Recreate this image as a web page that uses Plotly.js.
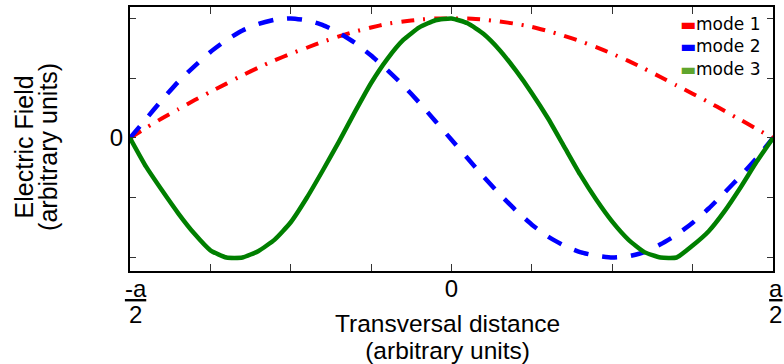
<!DOCTYPE html>
<html>
<head>
<meta charset="utf-8">
<script src="https://cdn.plot.ly/plotly-3.0.1.min.js"></script>
<style>
  html, body { margin: 0; padding: 0; background: #fff; }
  #plot { width: 784px; height: 364px; }
</style>
</head>
<body>
<div id="plot"></div>
<script>
// Transverse position across the guide, in units of the width a
const xPos = [-0.5, -0.475, -0.45, -0.425, -0.4, -0.375, -0.35, -0.325, -0.3, -0.275,
  -0.25, -0.225, -0.2, -0.175, -0.15, -0.125, -0.1, -0.075, -0.05, -0.025,
  0, 0.025, 0.05, 0.075, 0.1, 0.125, 0.15, 0.175, 0.2, 0.225,
  0.25, 0.275, 0.3, 0.325, 0.35, 0.375, 0.4, 0.425, 0.45, 0.475, 0.5];

// Field profiles (arbitrary units)
const mode1 = [0, 0.085, 0.165, 0.24, 0.315, 0.385, 0.455, 0.525, 0.59, 0.65,
  0.705, 0.755, 0.805, 0.85, 0.89, 0.925, 0.955, 0.975, 0.99, 1.0,
  1.0, 1.0, 0.99, 0.975, 0.955, 0.93, 0.895, 0.855, 0.81, 0.76,
  0.705, 0.645, 0.58, 0.51, 0.44, 0.37, 0.3, 0.225, 0.15, 0.075, 0];

const mode2 = [0, 0.16, 0.32, 0.47, 0.6, 0.72, 0.82, 0.9, 0.955, 0.99,
  1.0, 0.985, 0.945, 0.88, 0.795, 0.69, 0.57, 0.44, 0.295, 0.14,
  -0.015, -0.17, -0.325, -0.47, -0.605, -0.725, -0.825, -0.9, -0.955, -0.985,
  -1.0, -0.99, -0.955, -0.89, -0.81, -0.71, -0.59, -0.455, -0.315, -0.165, 0];

const mode3 = [0, -0.24, -0.44, -0.63, -0.8, -0.94, -1.0, -1.0, -0.945, -0.85,
  -0.705, -0.5, -0.27, -0.03, 0.22, 0.46, 0.66, 0.82, 0.925, 0.985,
  1.0, 0.96, 0.87, 0.735, 0.565, 0.375, 0.165, -0.07, -0.305, -0.515,
  -0.7, -0.85, -0.955, -1.0, -1.0, -0.9, -0.78, -0.61, -0.41, -0.195, 0];

const seriesNames = ['mode 1', 'mode 2', 'mode 3'];
const lineColors = ['#ff0000', '#0000ff', '#007f00'];
const legendColors = ['#ff0000', '#0000ff', '#5fa52d'];

// Axis ticks and labels
const xTickVals = [-0.5, -0.375, -0.25, -0.125, 0, 0.125, 0.25, 0.375, 0.5];
const xTickText = [
  '&nbsp;&nbsp;<span style="font-size:24px"><u>-a</u></span><br>&nbsp;&nbsp;<span style="font-size:24px">2</span>',
  '', '', '',
  '<span style="font-size:24px">0</span>',
  '', '', '',
  '&nbsp;<span style="font-size:24px"><u>a</u></span><br>&nbsp;<span style="font-size:24px">2</span>'
];
const yTickVals = [-1, -0.5, 0, 0.5, 1];
const yTickText = ['', '', '0', '', ''];

const xTitleLines = ['Transversal distance', '(arbitrary units)'];
const yTitleLines = ['Electric Field', '(arbitrary units)'];

const FONT = 'Liberation Sans, Arial, Helvetica, sans-serif';

// two title lines set tight: the base size fixes the line pitch (1.3 x base),
// the glyphs themselves are drawn at `px`
function titleText(lines, px) {
  return lines.map(t => '<span style="font-size:' + px + 'px">' + t + '</span>').join('<br>');
}

const traces = [
  { x: xPos, y: mode1, name: seriesNames[0], mode: 'lines',
    line: { color: lineColors[0], width: 4, dash: '13px,9px,2px,9px', shape: 'spline', smoothing: 0.5 } },
  { x: xPos, y: mode2, name: seriesNames[1], mode: 'lines',
    line: { color: lineColors[1], width: 4.5, dash: '15px,14px', shape: 'spline', smoothing: 0.5 } },
  { x: xPos, y: mode3, name: seriesNames[2], mode: 'lines',
    line: { color: lineColors[2], width: 4.5, shape: 'spline', smoothing: 0.5 } }
];

const axisCommon = {
  showline: true, mirror: 'allticks', linecolor: '#000', linewidth: 2,
  ticks: 'inside', tickwidth: 1, tickcolor: '#333',
  showgrid: false, zeroline: false, fixedrange: true
};

const annotations = [
  { // x axis title
    xref: 'paper', yref: 'paper', x: 0.494, y: 0,
    xanchor: 'center', yanchor: 'middle', yshift: -65.5,
    text: titleText(xTitleLines, 24.5), showarrow: false,
    font: { family: FONT, size: 20.8, color: '#000' }
  },
  { // y axis title
    xref: 'paper', yref: 'paper', x: 0, y: 0.47,
    xanchor: 'center', yanchor: 'middle', xshift: -94, textangle: -90,
    text: titleText(yTitleLines, 25), showarrow: false,
    font: { family: FONT, size: 18.5, color: '#000' }
  }
];
// legend entries
const legendY = [0.936, 0.8515, 0.767];
seriesNames.forEach((n, i) => annotations.push({
  xref: 'paper', yref: 'paper', x: 0.853, y: legendY[i],
  xanchor: 'left', yanchor: 'middle',
  text: '<span style="color:' + legendColors[i] + '">\u25AC</span>' + n,
  showarrow: false, font: { family: 'DejaVu Sans, sans-serif', size: 17, color: '#000' }
}));

const layout = {
  width: 784, height: 364,
  margin: { l: 130, r: 11, t: 7, b: 93 },
  paper_bgcolor: '#fff', plot_bgcolor: '#fff',
  showlegend: false,
  font: { family: FONT, color: '#000' },
  xaxis: Object.assign({}, axisCommon, {
    range: [-0.5, 0.5], tickmode: 'array', tickvals: xTickVals, ticktext: xTickText,
    ticklen: 7, tickfont: { family: FONT, size: 20, color: '#000' }
  }),
  yaxis: Object.assign({}, axisCommon, {
    range: [-1.113, 1.096], tickmode: 'array', tickvals: yTickVals, ticktext: yTickText,
    ticklen: 6, tickfont: { family: FONT, size: 24, color: '#000' }
  }),
  annotations: annotations
};

Plotly.newPlot('plot', traces, layout, { staticPlot: true, displayModeBar: false });
</script>
</body>
</html>
